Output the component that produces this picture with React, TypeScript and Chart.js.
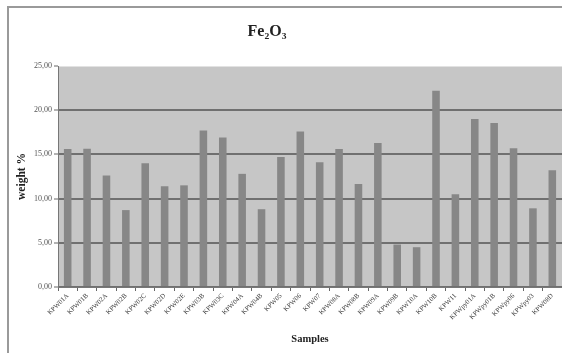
import React, { useEffect, useRef } from "react";
import { Chart, registerables } from "chart.js";

Chart.register(...registerables);

const categories = [
  "KPW01A", "KPW01B", "KPW02A", "KPW02B", "KPW02C", "KPW02D", "KPW02E",
  "KPW03B", "KPW03C", "KPW04A", "KPW04B", "KPW05", "KPW06", "KPW07",
  "KPW08A", "KPW08B", "KPW09A", "KPW09B", "KPW10A", "KPW10B", "KPW11",
  "KPWpy01A", "KPWpy01B", "KPWpy06", "KPWpy03", "KPW08D",
];

const fe2o3Values = [
  15.6, 15.65, 12.6, 8.7, 14.0, 11.4, 11.5, 17.7, 16.9, 12.8, 8.8, 14.7,
  17.6, 14.1, 15.6, 11.65, 16.3, 4.8, 4.5, 22.2, 10.5, 19.0, 18.55, 15.7,
  8.9, 13.2,
];

const yTicks = [0, 5, 10, 15, 20, 25];

const titleText = "Fe\u2082O\u2083";
const yTitle = "weight %";
const xTitle = "Samples";

const serif = "'Liberation Serif', 'DejaVu Serif', serif";

const plotBg = {
  id: "plotBg",
  beforeDraw(chart: any) {
    const { ctx, chartArea } = chart;
    if (!chartArea) return;
    ctx.save();
    ctx.fillStyle = "#c6c6c6";
    ctx.fillRect(chartArea.left, chartArea.top, chartArea.right - chartArea.left, chartArea.bottom - chartArea.top);
    ctx.strokeStyle = "#e2e2e2";
    ctx.lineWidth = 1;
    ctx.beginPath();
    ctx.moveTo(chartArea.left, chartArea.top + 0.5);
    ctx.lineTo(chartArea.right, chartArea.top + 0.5);
    ctx.stroke();
    ctx.restore();
  },
  afterDraw(chart: any) {
    const { ctx } = chart;
    ctx.save();
    ctx.fillStyle = "#222";
    ctx.font = `bold 16px ${serif}`;
    ctx.textAlign = "center";
    ctx.textBaseline = "middle";
    ctx.fillText(titleText, 267, 32);
    ctx.restore();
  },
};

export default function App() {
  const ref = useRef<HTMLCanvasElement | null>(null);

  useEffect(() => {
    if (!ref.current) return;
    const chart = new Chart(ref.current, {
      type: "bar",
      data: {
        labels: categories,
        datasets: [
          {
            data: fe2o3Values,
            backgroundColor: "#878787",
            borderWidth: 0,
            categoryPercentage: 1,
            barPercentage: 0.39,
          },
        ],
      },
      options: {
        animation: false,
        responsive: false,
        maintainAspectRatio: false,
        layout: { padding: { top: 66, left: 0, right: 0, bottom: 0 } },
        plugins: {
          legend: { display: false },
          tooltip: { enabled: false },
          title: { display: false },
        },
        scales: {
          x: {
            afterFit(scale: any) {
              scale.height = 66;
            },
            grid: {
              display: true,
              drawOnChartArea: false,
              offset: true,
              tickLength: 4,
              tickColor: "#666",
              tickWidth: 1,
            },
            border: { display: true, color: "#777", width: 1 },
            ticks: {
              autoSkip: false,
              minRotation: 45,
              maxRotation: 45,
              padding: 1,
              color: "#3a3a3a",
              font: { family: serif, size: 6.8 },
            },
            title: {
              display: true,
              text: xTitle,
              color: "#222",
              font: { family: serif, size: 10.5, weight: "bold" },
              padding: { top: 0, bottom: 7 },
            },
          },
          y: {
            min: 0,
            max: 25,
            afterFit(scale: any) {
              scale.width = 58;
            },
            afterBuildTicks(scale: any) {
              scale.ticks = yTicks.map((v) => ({ value: v }));
            },
            grid: {
              color: (c: any) => (c.tick && c.tick.value === 25 ? "rgba(0,0,0,0)" : "#707070"),
              lineWidth: 2,
              tickLength: 4,
              tickColor: "#666",
              tickWidth: 1,
            },
            border: { display: true, color: "#777", width: 1 },
            ticks: {
              padding: 2,
              color: "#555",
              font: { family: serif, size: 8 },
              callback: (v: any) => Number(v).toFixed(2).replace(".", ","),
            },
            title: {
              display: true,
              text: yTitle,
              color: "#222",
              font: { family: serif, size: 11.5, weight: "bold" },
              padding: { top: 15, bottom: 0 },
            },
          },
        },
      },
      plugins: [plotBg],
    });
    return () => chart.destroy();
  }, []);

  return (
    <div style={{ position: "absolute", left: 0, top: 0, width: 562, height: 353, background: "#fff" }}>
      <div
        style={{
          position: "absolute",
          left: 7,
          top: 6,
          width: 562,
          height: 353,
          borderLeft: "2px solid #9a9a9a",
          borderTop: "2px solid #9a9a9a",
        }}
      />
      <canvas ref={ref} width={562} height={353} style={{ position: "absolute", left: 0, top: 0 }} />
    </div>
  );
}
